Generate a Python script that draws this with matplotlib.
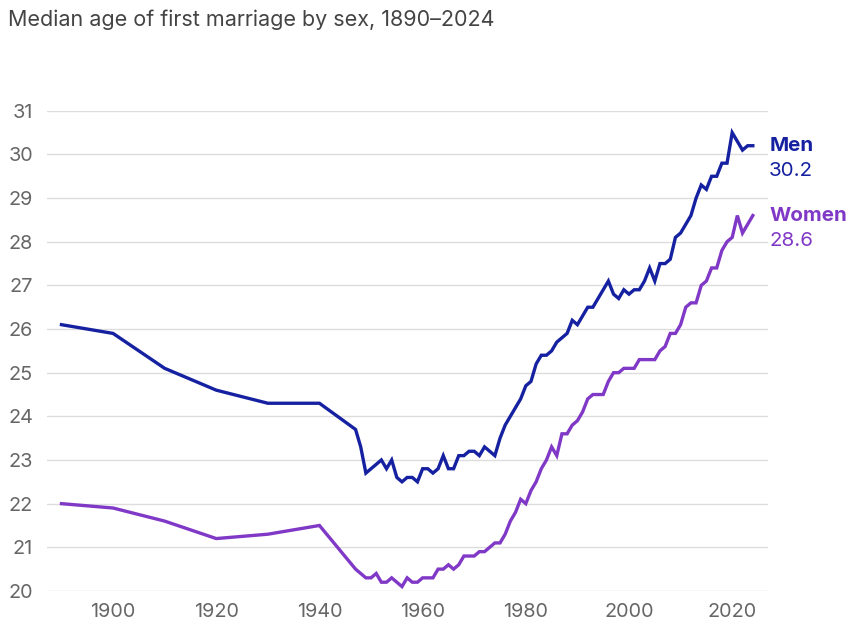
import matplotlib
matplotlib.use("Agg")
import matplotlib.pyplot as plt

plt.rcParams['font.family'] = ['Inter', 'DejaVu Sans']

# median age at first marriage (Census MS-2 style table)
years = [1890, 1900, 1910, 1920, 1930, 1940] + list(range(1947, 2025))

men = [26.1, 25.9, 25.1, 24.6, 24.3, 24.3,
       23.7, 23.3, 22.7, 22.8, 22.9, 23.0, 22.8, 23.0, 22.6, 22.5, 22.6, 22.6,
       22.5, 22.8, 22.8, 22.7, 22.8, 23.1, 22.8, 22.8, 23.1, 23.1, 23.2, 23.2,
       23.1, 23.3, 23.2, 23.1, 23.5, 23.8, 24.0, 24.2, 24.4, 24.7, 24.8, 25.2,
       25.4, 25.4, 25.5, 25.7, 25.8, 25.9, 26.2, 26.1, 26.3, 26.5, 26.5, 26.7,
       26.9, 27.1, 26.8, 26.7, 26.9, 26.8, 26.9, 26.9, 27.1, 27.4, 27.1, 27.5,
       27.5, 27.6, 28.1, 28.2, 28.4, 28.6, 29.0, 29.3, 29.2, 29.5, 29.5, 29.8,
       29.8, 30.5, 30.3, 30.1, 30.2, 30.2]

women = [22.0, 21.9, 21.6, 21.2, 21.3, 21.5,
         20.5, 20.4, 20.3, 20.3, 20.4, 20.2, 20.2, 20.3, 20.2, 20.1, 20.3, 20.2,
         20.2, 20.3, 20.3, 20.3, 20.5, 20.5, 20.6, 20.5, 20.6, 20.8, 20.8, 20.8,
         20.9, 20.9, 21.0, 21.1, 21.1, 21.3, 21.6, 21.8, 22.1, 22.0, 22.3, 22.5,
         22.8, 23.0, 23.3, 23.1, 23.6, 23.6, 23.8, 23.9, 24.1, 24.4, 24.5, 24.5,
         24.5, 24.8, 25.0, 25.0, 25.1, 25.1, 25.1, 25.3, 25.3, 25.3, 25.3, 25.5,
         25.6, 25.9, 25.9, 26.1, 26.5, 26.6, 26.6, 27.0, 27.1, 27.4, 27.4, 27.8,
         28.0, 28.1, 28.6, 28.2, 28.4, 28.6]

x_ticks = [1900, 1920, 1940, 1960, 1980, 2000, 2020]
y_ticks = list(range(20, 32))

MEN_C = "#1521a0"
WOMEN_C = "#8038c6"

fig = plt.figure(figsize=(8.55, 6.26), dpi=100)
ax = fig.add_axes([0.055, 0.056, 0.843, 0.767])

ax.plot(years, men, color=MEN_C, lw=2.4, solid_joinstyle="miter", zorder=3)
ax.plot(years, women, color=WOMEN_C, lw=2.4, solid_joinstyle="miter", zorder=3)

ax.set_xlim(1887.2, 2026.9)
ax.set_ylim(20, 31)
ax.set_xticks(x_ticks)
ax.set_yticks(y_ticks)
ax.grid(axis="y", color="#dddddd", lw=1)
ax.set_axisbelow(True)
for s in ax.spines.values():
    s.set_visible(False)
ax.tick_params(length=0, labelsize=14.3, labelcolor="#666666")
ax.tick_params(axis="x", pad=9)
ax.tick_params(axis="y", pad=10)

# end labels: name centred on last value, number underneath
for name, vals, col in [("Men", men, MEN_C), ("Women", women, WOMEN_C)]:
    ax.annotate(name, (1.0, vals[-1]), xycoords=("axes fraction", "data"),
                xytext=(1, 0), textcoords="offset points", color=col,
                fontsize=14.8, fontweight="bold", va="center", ha="left",
                annotation_clip=False)
    ax.annotate("%.1f" % vals[-1], (1.0, vals[-1]),
                xycoords=("axes fraction", "data"), xytext=(1, -18),
                textcoords="offset points", color=col, fontsize=14.8,
                va="center", ha="left", annotation_clip=False)

fig.text(0.009, 0.969, "Median age of first marriage by sex, 1890\u20132024",
         fontsize=15.5, color="#444444", va="center", ha="left")

fig.savefig("out.png", dpi=100)
